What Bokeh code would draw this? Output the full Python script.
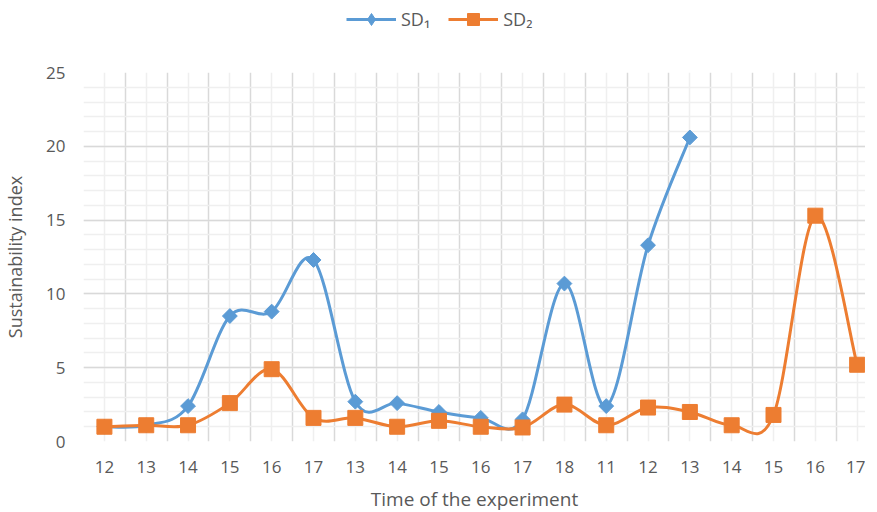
import numpy as np
from bokeh.plotting import figure
from bokeh.layouts import column
from bokeh.models import FixedTicker, Legend, LegendItem, Range1d
from bokeh.embed import file_html
from bokeh.resources import INLINE

# ---- data ----
time_labels = ["12", "13", "14", "15", "16", "17", "13", "14", "15", "16",
               "17", "18", "11", "12", "13", "14", "15", "16", "17"]
sd1 = [1.0, 1.1, 2.4, 8.5, 8.8, 12.3, 2.7, 2.6, 2.0, 1.6, 1.5, 10.7, 2.4,
       13.3, 20.6, None, None, None, None]
sd2 = [1.0, 1.1, 1.1, 2.6, 4.9, 1.6, 1.6, 1.0, 1.4, 1.0, 0.95, 2.5, 1.1,
       2.3, 2.0, 1.1, 1.8, 15.3, 5.2]
series_names = ["SD\u2081", "SD\u2082"]
y_ticks = [0, 5, 10, 15, 20, 25]

BLUE = "#5B9BD5"
ORANGE = "#ED7D31"
TXT = "#595959"
FONT = "Open Sans"

n = len(time_labels)

p = figure(width=861, height=457, output_backend="svg", toolbar_location=None,
           x_range=Range1d(-0.5, 18.2), y_range=Range1d(0, 25),
           frame_width=782, frame_height=369,
           min_border_left=79, min_border_right=0, min_border_top=20,
           min_border_bottom=68)
p.outline_line_color = None

# axes
p.xaxis.ticker = FixedTicker(ticks=list(range(n)))
p.xaxis.major_label_overrides = {i: t for i, t in enumerate(time_labels)}
p.yaxis.ticker = FixedTicker(ticks=y_ticks)
for ax in (p.xaxis[0], p.yaxis[0]):
    ax.axis_line_color = None
    ax.major_tick_line_color = None
    ax.minor_tick_line_color = None
    ax.major_label_text_color = TXT
    ax.major_label_text_font = FONT
    ax.major_label_text_font_size = "17px"
    ax.axis_label_text_color = TXT
    ax.axis_label_text_font = FONT
    ax.axis_label_text_font_style = "normal"
p.xaxis.axis_label = "Time of the experiment"
p.yaxis.axis_label = "Sustainability index"
p.xaxis.axis_label_text_font_size = "19px"
p.yaxis.axis_label_text_font_size = "18px"
p.xaxis.major_label_standoff = 13
p.yaxis.major_label_standoff = 12
p.xaxis.axis_label_standoff = 10
p.yaxis.axis_label_standoff = 16

# grids
p.xgrid.ticker = FixedTicker(ticks=[i - 0.5 for i in range(n + 1)],
                             minor_ticks=list(range(n)))
p.ygrid.ticker = FixedTicker(ticks=y_ticks, minor_ticks=list(range(26)))
for g in (p.xgrid[0], p.ygrid[0]):
    g.grid_line_color = "#D9D9D9"
    g.grid_line_width = 1.5
    g.minor_grid_line_color = "#EFEFEF"
    g.minor_grid_line_width = 1.5


def smooth_segments(vals):
    pts = [(float(i), v) for i, v in enumerate(vals) if v is not None]
    px = np.array([q[0] for q in pts])
    py = np.array([q[1] for q in pts])
    m = len(px)
    x0, y0, x1, y1, cx0, cy0, cx1, cy1 = ([] for _ in range(8))
    for i in range(m - 1):
        im1 = max(i - 1, 0)
        ip2 = min(i + 2, m - 1)
        x0.append(px[i]); y0.append(py[i])
        x1.append(px[i + 1]); y1.append(py[i + 1])
        cx0.append(px[i] + (px[i + 1] - px[im1]) / 6)
        cy0.append(py[i] + (py[i + 1] - py[im1]) / 6)
        cx1.append(px[i + 1] - (px[ip2] - px[i]) / 6)
        cy1.append(py[i + 1] - (py[ip2] - py[i]) / 6)
    return dict(x0=x0, y0=y0, x1=x1, y1=y1, cx0=cx0, cy0=cy0, cx1=cx1, cy1=cy1), px, py


# legend strip above the chart (its series sit outside its visible range)
lf = figure(width=861, height=52, output_backend="svg", toolbar_location=None,
            x_range=Range1d(-0.5, 18.2), y_range=Range1d(-30, -25),
            min_border_left=0, min_border_right=0, min_border_top=0,
            min_border_bottom=0)
lf.xaxis.visible = False
lf.yaxis.visible = False
lf.xgrid.visible = False
lf.ygrid.visible = False
lf.outline_line_color = None

styles = [(sd1, BLUE, 10.5, np.pi / 4, "diamond"),
          (sd2, ORANGE, 15, 0.0, "square")]
items = []
for (vals, color, size, angle, legend_marker), name in zip(styles, series_names):
    seg, px, py = smooth_segments(vals)
    p.bezier(x0="x0", y0="y0", x1="x1", y1="y1", cx0="cx0", cy0="cy0",
             cx1="cx1", cy1="cy1", source=seg, line_color=color, line_width=3)
    p.scatter(px, py, marker="square", size=size, angle=angle,
              fill_color=color, line_color=color)
    lr = lf.line(px, py, line_color=color, line_width=3)
    sr = lf.scatter(px, py, marker=legend_marker, size=size,
                    fill_color=color, line_color=color)
    items.append(LegendItem(label=name, renderers=[lr, sr]))

legend = Legend(items=items, orientation="horizontal", location=(263, 18),
                border_line_color=None, background_fill_alpha=0,
                label_text_color=TXT, label_text_font=FONT,
                label_text_font_size="18px", glyph_width=50, glyph_height=30,
                label_height=30, spacing=18, label_standoff=5, padding=0,
                margin=0)
lf.add_layout(legend, "center")

layout = column(lf, p, spacing=0)
open("out.html", "w").write(file_html(layout, INLINE))
